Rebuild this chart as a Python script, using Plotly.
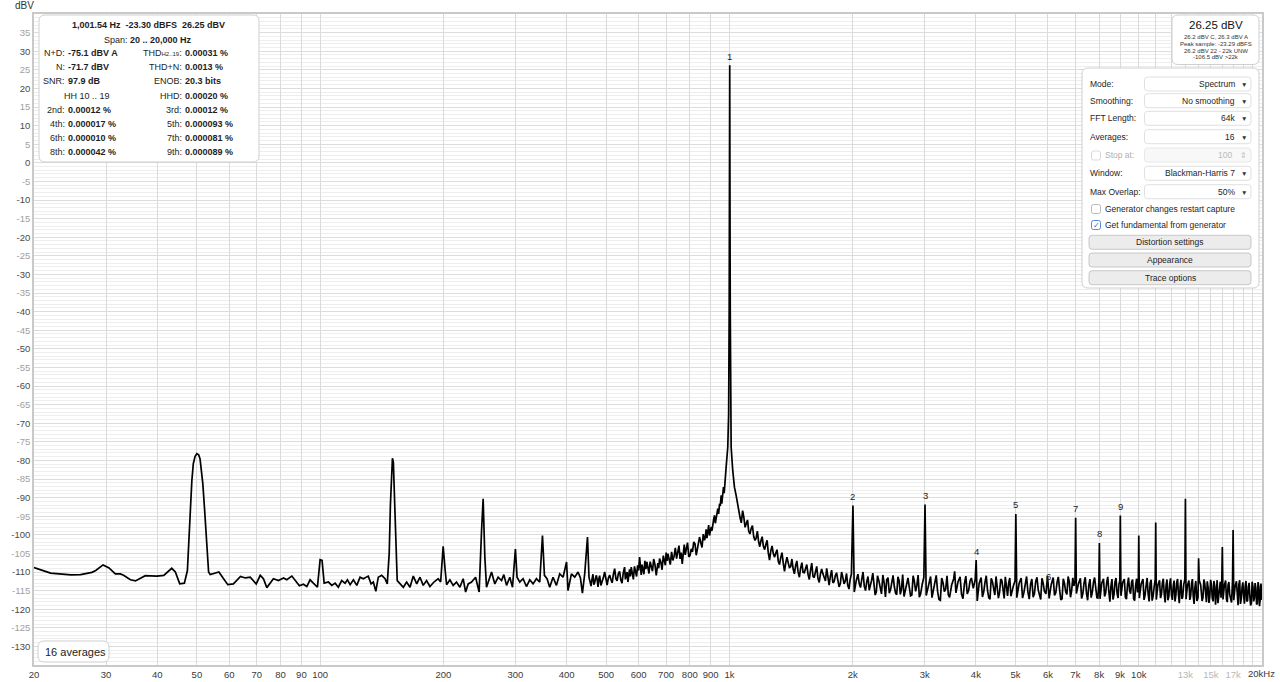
import math
import plotly.graph_objects as go

FONT = "Liberation Sans, Arial, Helvetica, sans-serif"

# ----------------------------------------------------------------- data ----
# 20 Hz .. 450 Hz : mains hum region (frequency in Hz, level in dBV)
hum_freq_hz = [20, 21.96, 24.6, 26.0, 27.7, 28.3, 29.5, 30.5, 31.6, 32.5, 33.1, 34.4, 35.4, 36.4, 37.4,
               39.9, 41.5, 43.4, 44.3, 45.4, 46.6, 47.4, 47.8, 48.2, 48.6, 49.0, 49.5, 50.0, 50.5, 50.9,
               51.3, 51.7, 52.2, 52.6, 53.0, 53.4, 53.9, 56.6, 58.1, 59.5, 61.4, 63.9, 65.7, 67.5, 69.8,
               71.4, 72.7, 74.1, 76.9, 79.1, 81.4, 82.9, 85.3, 87.7, 89.0, 91.0, 92.8, 94.5, 96.3, 98.5,
               100.0, 101.1, 102.3, 104.8, 106.8, 108.8, 110.8, 112.9, 115.1, 116.6, 118.4, 120.6, 122.9,
               125.2, 127.5, 131.1, 133.2, 134.9, 136.8, 138.7, 141.4, 144.1, 145.9, 147.5, 148.5, 149.5,
               150.2, 151.0, 152.0, 153.0, 154.3, 156.7, 159.7, 162.7, 165.8, 168.9, 172.2, 175.4, 178.6,
               182.0, 185.5, 189.7, 194.3, 197.0, 199.8, 202.1, 203.7, 207.5, 211.4, 215.4, 219.5, 223.6,
               226.7, 230.0, 234.4, 239.8, 244.6, 248.0, 250.2, 252.6, 255.0, 259.8, 262.3, 267.2, 272.2,
               277.5, 281.1, 285.4, 290.7, 295.1, 300.0, 302.8, 307.4, 313.2, 319.2, 325.2, 331.3, 337.7,
               344.0, 349.3, 353.2, 358.4, 363.9, 370.7, 377.9, 384.9, 392.2, 400.0, 403.3, 411.1, 418.8,
               426.6, 432.5, 437.3, 443.0, 450.0]
hum_level_dbv = [-108.8, -110.3, -110.75, -110.7, -110.1, -109.6, -108.1, -108.9, -110.5, -110.5, -110.9,
                 -112.1, -112.4, -111.8, -111.0, -111.1, -110.9, -109.0, -110.0, -113.2, -113.0, -109.6,
                 -100.0, -92.6, -85.5, -80.9, -78.9, -78.2, -78.5, -79.6, -82.5, -86.3, -93.0, -98.8,
                 -105.0, -110.0, -110.7, -110.0, -111.8, -113.4, -113.2, -111.2, -111.6, -111.4, -113.2,
                 -110.9, -111.8, -114.2, -111.8, -112.3, -111.6, -112.1, -111.1, -112.7, -113.7, -113.3,
                 -113.9, -112.1, -113.0, -114.1, -106.7, -106.9, -113.0, -112.7, -113.6, -113.0, -114.1,
                 -112.3, -113.0, -112.1, -113.4, -112.1, -113.6, -111.4, -111.8, -111.1, -113.2, -112.7,
                 -115.2, -111.4, -110.9, -111.8, -113.2, -105.0, -92.0, -82.0, -79.4, -80.5, -88.0,
                 -100.0, -112.3, -113.2, -114.1, -112.7, -114.1, -111.1, -113.2, -111.4, -113.6, -112.3,
                 -113.9, -112.7, -111.8, -112.7, -103.1, -109.6, -113.4, -112.1, -113.6, -112.7, -114.1,
                 -111.8, -115.4, -113.2, -112.7, -111.4, -115.4, -98.8, -90.3, -106.0, -114.1, -111.4,
                 -110.0, -113.2, -111.4, -112.3, -110.7, -113.6, -111.4, -114.1, -103.8, -111.4, -112.7,
                 -111.8, -113.9, -112.1, -113.2, -111.8, -112.7, -100.2, -110.9, -111.8, -114.1, -111.4,
                 -113.6, -110.5, -111.4, -107.3, -115.0, -110.5, -111.4, -110.0, -111.6, -115.7, -110.5,
                 -100.6]

# 450 Hz .. 1 kHz : rising skirt of the fundamental
rise_freq_hz = [453.8, 459.0, 464.1, 468.5, 473.1, 477.5, 481.9, 488.5, 495.6, 502.5, 509.7, 517.0, 524.3,
                531.5, 539.0, 546.5, 554.4, 559.5, 564.9, 570.0, 575.6, 582.5, 589.7, 596.5, 603.2, 608.8,
                614.4, 621.5, 628.5, 636.0, 644.2, 653.0, 662.5, 668.5, 675.0, 684.5, 694.2, 700.5, 707.3,
                717.0, 727.4, 737.5, 748.1, 757.5, 766.8, 775.5, 784.3, 795.5, 806.6, 818.0, 829.6, 837.5,
                845.1, 857.0, 869.0, 877.0, 885.4, 894.0, 902.5, 911.0, 919.3, 928.0, 936.5, 945.5, 954.6,
                961.0, 967.0, 975.0, 981.6, 990.6, 995.5, 998.5, 1000.3, 1002.8, 1004.6]
rise_level_dbv = [-111.4, -113.8, -110.6, -112.9, -110.9, -114.0, -111.0, -112.8, -110.0, -113.5, -110.8,
                  -112.9, -109.1, -112.4, -109.8, -113.0, -108.7, -111.2, -112.7, -109.3, -108.7, -112.0,
                  -110.0, -108.2, -106.0, -110.8, -109.6, -107.0, -107.3, -110.4, -108.7, -106.5, -110.9,
                  -107.6, -106.4, -109.4, -107.3, -104.8, -105.1, -108.0, -106.9, -103.5, -104.2, -106.5,
                  -107.8, -102.6, -103.3, -105.9, -103.8, -101.9, -105.5, -102.8, -100.6, -103.4, -101.5,
                  -98.5, -98.8, -100.2, -97.9, -96.8, -94.8, -95.6, -93.0, -91.9, -89.4, -90.2, -87.2,
                  -85.5, -81.8, -76.4, -67.5, -40.0, -5.0, -5.0, -40.0]
rise_fill_freq_hz = [456.5, 461.5, 466.3, 470.8, 475.3, 479.7, 485.2, 492.0, 499.0, 506.0,
                     513.3, 520.6, 527.9, 535.2, 542.7, 550.4, 557.0, 562.2, 567.5, 572.8,
                     579.0, 586.1, 593.1, 599.8, 606.0, 611.6, 618.0, 625.0, 632.2, 640.1,
                     648.6, 657.7, 665.5, 671.7, 679.7, 689.3, 697.3, 703.9, 712.1, 722.2,
                     732.4, 742.8, 752.8, 762.1, 771.1, 779.9, 789.9, 801.0, 812.3, 823.8,
                     833.5, 841.3, 851.0, 863.0, 873.0, 881.2, 889.7, 898.2, 906.7, 915.1,
                     923.6, 932.2, 941.0, 950.0, 957.8, 964.0, 971.0, 978.3]
rise_fill_level_dbv = [-112.6, -112.0, -113.4, -111.7, -112.2, -111.8, -113.6, -111.5, -112.1, -111.7,
                       -112.0, -110.6, -111.8, -110.5, -112.1, -110.2, -112.0, -110.0, -111.4, -111.2,
                       -110.3, -108.5, -111.2, -109.6, -107.9, -108.0, -110.6, -109.2, -108.8, -107.2,
                       -109.8, -108.0, -108.9, -109.0, -107.3, -105.6, -108.2, -107.0, -106.2, -104.6,
                       -105.8, -106.4, -102.9, -104.8, -105.0, -105.4, -102.1, -105.6, -104.6, -102.4,
                       -104.2, -101.3, -102.1, -99.8, -100.7, -100.9, -97.4, -99.1, -98.9, -95.8,
                       -96.9, -94.2, -94.4, -92.0, -91.6, -88.6, -88.8, -84.2]

# 1 kHz .. 3 kHz : falling skirt and noise floor
floor_a_freq_hz = [1009.6, 1018.7, 1028.5, 1038.3, 1047, 1062, 1077, 1092, 1107, 1122, 1138, 1154, 1170,
                   1186, 1202, 1219, 1236, 1253, 1271, 1289, 1307, 1325, 1344, 1363, 1382, 1401, 1421,
                   1441, 1461, 1482, 1503, 1524, 1545, 1567, 1589, 1611, 1634, 1657, 1680, 1704, 1728,
                   1752, 1777, 1802, 1827, 1853, 1879, 1905, 1932, 1959, 1986, 2018, 2060, 2090, 2120,
                   2150, 2180, 2210, 2240, 2270, 2300, 2335, 2370, 2405, 2440, 2475, 2510, 2545, 2580,
                   2615, 2650, 2690, 2730, 2770, 2810, 2850, 2890, 2930, 2985]
floor_a_level_dbv = [-76.4, -82.7, -87.2, -89.4, -92.1, -95.5, -93.5, -98.0, -96.0, -99.8, -97.5, -101.5,
                     -99.0, -103.2, -100.5, -104.0, -101.5, -106.8, -103.0, -106.0, -104.0, -108.0, -104.8,
                     -109.8, -106.0, -108.8, -106.5, -110.5, -107.0, -111.4, -107.5, -110.2, -108.0, -112.0,
                     -107.6, -111.5, -108.5, -112.8, -109.2, -111.8, -109.0, -113.5, -109.5, -112.6, -110.2,
                     -114.0, -110.0, -113.2, -110.4, -114.6, -110.5, -115.4, -110.6, -114.2, -110.0, -115.0,
                     -111.2, -113.8, -110.3, -116.2, -111.0, -114.5, -110.8, -116.7, -111.5, -114.8, -110.9,
                     -115.6, -111.3, -116.0, -110.7, -114.9, -111.6, -116.4, -111.0, -115.2, -110.8, -116.0,
                     -111.4]
floor_a_fill_freq_hz = [1054, 1069, 1084, 1099, 1114, 1130, 1146, 1162, 1178, 1194,
                        1210, 1227, 1244, 1262, 1280, 1298, 1316, 1334, 1353, 1372,
                        1391, 1411, 1431, 1451, 1471, 1492, 1513, 1534, 1556, 1578,
                        1600, 1622, 1645, 1668, 1692, 1716, 1740, 1764, 1789, 1814,
                        1840, 1866, 1892, 1918, 1945, 1972, 2040, 2075, 2105, 2135,
                        2165, 2195, 2225, 2255, 2285, 2318, 2352, 2388, 2422, 2458,
                        2492, 2528, 2562, 2598, 2632, 2670, 2710, 2750, 2790, 2830,
                        2870, 2910, 2958]
floor_a_fill_level_dbv = [-93.0, -96.8, -95.2, -97.0, -98.9, -98.3, -100.4, -100.9, -101.8, -101.6,
                          -103.0, -102.6, -104.8, -104.3, -105.1, -104.9, -107.1, -106.2, -107.5, -107.7,
                          -107.4, -108.6, -109.2, -108.3, -109.9, -109.0, -110.1, -109.1, -110.6, -109.5,
                          -111.2, -110.0, -111.7, -110.6, -110.5, -112.4, -110.8, -111.2, -112.9, -111.0,
                          -112.2, -113.1, -111.4, -112.5, -113.5, -112.0, -112.4, -113.1, -112.0, -113.8,
                          -112.6, -114.9, -112.2, -113.5, -115.3, -112.4, -115.9, -113.0, -112.1, -115.7,
                          -112.6, -113.9, -116.1, -112.4, -114.6, -116.6, -112.9, -114.1, -116.2, -112.5,
                          -113.6, -116.8, -113.3]

# 3 kHz .. 20 kHz : noise floor
floor_b_freq_hz = [3025, 3100, 3150, 3200, 3250, 3300, 3350, 3400, 3450, 3530, 3575, 3660, 3720, 3780,
                   3840, 3900, 3985, 4030, 4120, 4180, 4240, 4300, 4360, 4420, 4480, 4540, 4600, 4660,
                   4720, 4780, 4840, 4900, 4985, 5035, 5160, 5240, 5320, 5400, 5480, 5560, 5640, 5720,
                   5800, 5880, 5985, 6040, 6180, 6270, 6360, 6450, 6540, 6630, 6720, 6810, 6900, 6985,
                   7040, 7200, 7300, 7400, 7500, 7600, 7700, 7800, 7900, 7990, 8040, 8200, 8300, 8400,
                   8500, 8600, 8700, 8800, 8900, 8990, 9045, 9220, 9330, 9440, 9550, 9660, 9770, 9880,
                   9975, 10030, 10240, 10360, 10480, 10600, 10720, 10840, 10970, 11035, 11240, 11360,
                   11480, 11600, 11720, 11840, 11960, 12080, 12200, 12320, 12440, 12560, 12680, 12800,
                   12960, 13045, 13260, 13390, 13520, 13650, 13780, 13955, 14050, 14280, 14420, 14560,
                   14700, 14840, 14980, 15120, 15260, 15400, 15540, 15680, 15820, 15950, 16060, 16300,
                   16450, 16600, 16750, 16945, 17060, 17320, 17480, 17640, 17800, 17960, 18120, 18280,
                   18440, 18600, 18760, 18920, 19080, 19240, 19400, 19560, 19720, 19880, 20000]
floor_b_level_dbv = [-116.3, -111.2, -115.0, -110.9, -117.4, -111.6, -115.3, -111.0, -116.8, -111.8,
                     -115.6, -111.3, -117.2, -111.1, -115.0, -111.6, -112.0, -117.8, -111.5, -115.4,
                     -111.0, -116.9, -111.7, -115.2, -111.2, -117.0, -111.9, -115.8, -111.3, -116.4,
                     -111.6, -115.1, -112.4, -116.9, -111.6, -115.5, -111.2, -117.3, -111.9, -115.8,
                     -111.4, -116.6, -111.7, -115.2, -111.1, -117.1, -111.5, -115.6, -111.3, -117.5,
                     -111.8, -115.4, -111.2, -116.8, -111.6, -112.4, -115.8, -111.7, -115.9, -111.4,
                     -117.6, -111.9, -115.5, -111.5, -116.9, -112.6, -117.2, -111.8, -115.7, -111.3,
                     -118.0, -111.9, -116.1, -111.6, -117.0, -112.3, -116.4, -111.9, -117.3, -111.5,
                     -115.8, -112.0, -117.7, -111.8, -112.7, -117.0, -111.9, -116.2, -111.6, -117.9,
                     -112.1, -116.5, -111.9, -117.4, -112.2, -116.0, -111.8, -118.2, -112.0, -116.6,
                     -111.7, -117.5, -112.3, -116.2, -111.9, -118.4, -112.1, -116.8, -112.0, -117.3,
                     -112.3, -116.4, -111.9, -118.6, -112.4, -116.9, -112.2, -117.8, -112.0, -116.5,
                     -112.5, -118.3, -112.1, -117.0, -112.4, -118.8, -112.2, -116.7, -112.6, -112.9,
                     -117.4, -112.3, -118.1, -112.7, -116.9, -112.4, -117.6, -112.5, -118.9, -112.2,
                     -117.2, -112.8, -118.5, -112.4, -117.7, -112.9, -119.0, -112.6, -117.9, -113.0,
                     -118.7, -112.7, -119.2, -113.1, -117.5]
floor_b_fill_freq_hz = [3062, 3125, 3175, 3225, 3275, 3325, 3375, 3425, 3490, 3618,
                        3690, 3750, 3810, 3870, 3942, 4075, 4150, 4210, 4270, 4330,
                        4390, 4450, 4510, 4570, 4630, 4690, 4750, 4810, 4870, 4942,
                        5100, 5200, 5280, 5360, 5440, 5520, 5600, 5680, 5760, 5840,
                        5930, 6110, 6225, 6315, 6405, 6495, 6585, 6675, 6765, 6855,
                        6942, 7120, 7250, 7350, 7450, 7550, 7650, 7750, 7850, 7945,
                        8120, 8250, 8350, 8450, 8550, 8650, 8750, 8850, 8945, 9130,
                        9275, 9385, 9495, 9605, 9715, 9825, 9928, 10135, 10300, 10420,
                        10540, 10660, 10780, 10905, 11140, 11300, 11420, 11540, 11660, 11780,
                        11900, 12020, 12140, 12260, 12380, 12500, 12620, 12740, 12880, 13150,
                        13325, 13455, 13585, 13715, 13865, 14165, 14350, 14490, 14630, 14770,
                        14910, 15050, 15190, 15330, 15470, 15610, 15750, 15885, 16180, 16375,
                        16525, 16675, 16850, 17190, 17400, 17560, 17720, 17880, 18040, 18200,
                        18360, 18520, 18680, 18840, 19000, 19160, 19320, 19480, 19640, 19800,
                        19940]
floor_b_fill_level_dbv = [-113.8, -116.9, -112.4, -115.2, -117.6, -112.9, -114.6, -116.1, -113.5, -112.6,
                          -116.0, -113.2, -115.9, -112.5, -114.4, -113.0, -116.7, -112.8, -114.9, -117.3,
                          -112.6, -116.2, -113.7, -115.5, -112.3, -117.1, -114.2, -112.9, -116.5, -113.6,
                          -113.1, -117.0, -112.7, -115.4, -113.3, -116.8, -112.5, -114.8, -117.4, -113.0,
                          -115.9, -113.4, -116.3, -112.8, -114.7, -117.2, -113.1, -116.0, -112.6, -115.0,
                          -113.7, -113.2, -117.1, -112.9, -115.6, -113.5, -116.9, -112.7, -114.3, -117.0,
                          -113.0, -116.6, -112.8, -115.3, -113.9, -117.4, -112.6, -115.7, -113.3, -112.9,
                          -116.8, -113.4, -115.1, -112.7, -117.2, -113.6, -115.5, -113.2, -117.5, -113.7,
                          -115.8, -113.0, -117.7, -113.9, -113.4, -117.0, -112.9, -115.9, -113.6, -117.6,
                          -113.1, -116.3, -113.8, -117.9, -112.8, -116.1, -114.0, -117.2, -113.3, -113.6,
                          -117.5, -113.2, -116.4, -114.1, -117.8, -113.5, -116.8, -113.0, -118.1, -114.2,
                          -116.5, -113.4, -117.9, -113.8, -116.2, -118.4, -113.6, -116.9, -113.7, -117.3,
                          -113.5, -116.0, -118.2, -113.9, -116.7, -113.3, -118.6, -114.1, -116.4, -113.7,
                          -117.9, -114.0, -116.5, -118.3, -113.8, -117.0, -114.3, -118.5, -113.9, -117.4,
                          -114.6]

# fundamental and marked harmonics
fundamental_hz = 1001.54
harmonic_numbers = [1, 2, 3, 4, 5, 6, 7, 8, 9]
harmonic_level_dbv = [26.25, -92.1, -91.85, -106.8, -94.4, -113.7, -95.4, -102.2, -94.8]

# other (unmarked) spurs
spur_freq_hz = [3550, 10000, 11000, 13000, 14000, 16000, 17000]
spur_level_dbv = [-109.8, -100.2, -96.7, -90.3, -106.3, -103.3, -98.7]

# axis ticks
x_tick_hz = [20, 30, 40, 50, 60, 70, 80, 90, 100, 200, 300, 400, 500, 600, 700, 800, 900,
             1000, 2000, 3000, 4000, 5000, 6000, 7000, 8000, 9000, 10000,
             11000, 12000, 13000, 14000, 15000, 16000, 17000, 18000, 19000, 20000]
x_tick_text = ["20", "30", "40", "50", "60", "70", "80", "90", "100", "200", "300", "400", "500",
               "600", "700", "800", "900", "1k", "2k", "3k", "4k", "5k", "6k", "7k", "8k", "9k", "10k",
               "", "", "13k", "", "15k", "", "17k", "", "", ""]
x_faint_ticks = ["13k", "15k", "17k"]
x_end_label = "20kHz"
y_tick_dbv = list(range(35, -131, -5))

# readouts
pct_labels = ["2nd", "3rd", "4th", "5th", "6th", "7th", "8th", "9th"]
pct_values = ["0.00012 %", "0.00012 %", "0.000017 %", "0.000093 %", "0.000010 %", "0.000081 %",
              "0.000042 %", "0.000089 %"]

series = [(hum_freq_hz, hum_level_dbv), (rise_freq_hz, rise_level_dbv),
          (rise_fill_freq_hz, rise_fill_level_dbv),
          (floor_a_freq_hz, floor_a_level_dbv), (floor_a_fill_freq_hz, floor_a_fill_level_dbv),
          (floor_b_freq_hz, floor_b_level_dbv), (floor_b_fill_freq_hz, floor_b_fill_level_dbv),
          (spur_freq_hz, spur_level_dbv)]
for a, b in series:
    assert len(a) == len(b), (len(a), len(b))

# ------------------------------------------------------------ build trace --
pts = []
for fl, ll in series:
    pts += list(zip(fl, ll))
harm_freq_hz = [fundamental_hz * n for n in harmonic_numbers]
pts += list(zip(harm_freq_hz, harmonic_level_dbv))
pts.sort(key=lambda p: p[0])
freq = [p[0] for p in pts]
level = [p[1] for p in pts]

fig = go.Figure()
fig.add_trace(go.Scatter(x=freq, y=level, mode="lines",
                         line=dict(color="#000000", width=1.7),
                         hoverinfo="skip", showlegend=False))

# ----------------------------------------------------------------- layout --
W_PX, H_PX = 1280, 682
M_L, M_R, M_T, M_B = 34, 18, 14, 17
PW = W_PX - M_L - M_R
PH = H_PX - M_T - M_B


def px(x):
    return (x - M_L) / PW


def py(y):
    return 1 - (y - M_T) / PH


shapes = []
annots = []


def rrect(x0, y0, x1, y1, r, fill="#ffffff", line="#cfcfcf", lw=1.0):
    p = (f"M {px(x0 + r)},{py(y0)} L {px(x1 - r)},{py(y0)} Q {px(x1)},{py(y0)} {px(x1)},{py(y0 + r)} "
         f"L {px(x1)},{py(y1 - r)} Q {px(x1)},{py(y1)} {px(x1 - r)},{py(y1)} "
         f"L {px(x0 + r)},{py(y1)} Q {px(x0)},{py(y1)} {px(x0)},{py(y1 - r)} "
         f"L {px(x0)},{py(y0 + r)} Q {px(x0)},{py(y0)} {px(x0 + r)},{py(y0)} Z")
    shapes.append(dict(type="path", path=p, xref="paper", yref="paper", fillcolor=fill,
                       line=dict(color=line, width=lw), layer="above"))


def text(x, y, s, size=8.5, color="#1e1e1e", anchor="left"):
    annots.append(dict(xref="paper", yref="paper", x=px(x), y=py(y), text=s, showarrow=False,
                       xanchor=anchor, yanchor="middle", borderpad=0,
                       font=dict(family=FONT, size=size, color=color)))


# decade lines (darker)
for d in [100, 1000, 10000]:
    shapes.append(dict(type="line", xref="x", yref="paper", x0=math.log10(d), x1=math.log10(d),
                       y0=0, y1=1, line=dict(color="#a9a9a9", width=1), layer="between"))

# axis title and end label
text(14, 6, "dBV", size=10, color="#333")
text(1276, 673, x_end_label, size=9.5, color="#3a3a3a", anchor="right")

# info box
rrect(39, 15, 259, 162, 6)
text(148, 25, "<b>1,001.54 Hz&nbsp;&nbsp;-23.30 dBFS&nbsp;&nbsp;26.25 dBV</b>", size=9, anchor="center")
text(148, 39.5, "Span: <b>20 .. 20,000 Hz</b>", size=9, anchor="center")
info_rows = [
    (53.5, "N+D:", "-75.1 dBV A", "THD<span style='font-size:6px'>H2..19</span>:", "0.00031 %"),
    (67.5, "N:", "-71.7 dBV", "THD+N:", "0.0013 %"),
    (81.5, "SNR:", "97.9 dB", "ENOB:", "20.3 bits"),
    (95.5, None, None, "HHD:", "0.00020 %"),
]
for y, l1, v1, l2, v2 in info_rows:
    if l1:
        text(65.5, y, l1, size=9, anchor="right")
        text(67, y, f"<b>{v1}</b>", size=9)
    text(182.5, y, l2, size=9, anchor="right")
    text(184, y, f"<b>{v2}</b>", size=9)
text(87, 95.5, "HH 10 .. 19", size=9, anchor="center")
for i in range(4):
    y = 109.5 + 14 * i
    text(65.5, y, pct_labels[2 * i] + ":", size=9, anchor="right")
    text(67, y, f"<b>{pct_values[2 * i]}</b>", size=9)
    text(182.5, y, pct_labels[2 * i + 1] + ":", size=9, anchor="right")
    text(184, y, f"<b>{pct_values[2 * i + 1]}</b>", size=9)

# top-right level box
rrect(1172, 15, 1259, 64.5, 6)
text(1215.5, 25, "26.25 dBV", size=11.5, anchor="center", color="#111")
for y, s in [(36.7, "26.2 dBV C, 26.3 dBV A"), (43.6, "Peak sample: -23.29 dBFS"),
             (50.5, "26.2 dBV 22 - 22k UNW"), (57.3, "-106.5 dBV >22k")]:
    text(1215.5, y, s, size=6, anchor="center", color="#333")

# settings panel
rrect(1082, 68, 1259, 288, 6)
for lab, val, y in [("Mode:", "Spectrum", 84), ("Smoothing:", "No smoothing", 100.7),
                    ("FFT Length:", "64k", 118.3), ("Averages:", "16", 136.7),
                    ("Window:", "Blackman-Harris 7", 173.3), ("Max Overlap:", "50%", 191.7)]:
    text(1089, y, lab, size=8.5)
    rrect(1144.5, y - 7, 1251, y + 7, 3, fill="#ffffff", line="#d8d8d8", lw=0.8)
    text(1236, y, val, size=8.5, anchor="right")
    text(1244, y + 0.5, "▼", size=6.5, anchor="center", color="#333")
# stop at (disabled)
rrect(1091.5, 151, 1100.5, 160, 2, fill="#ffffff", line="#cfcfcf", lw=0.8)
text(1104, 155.3, "Stop at:", size=8.5, color="#b0b0b0")
rrect(1144.5, 148, 1251, 162, 3, fill="#f8f8f8", line="#e2e2e2", lw=0.8)
text(1233, 155.3, "100", size=8.5, anchor="right", color="#b8b8b8")
text(1243.5, 155.3, "⇕", size=8, anchor="center", color="#bdbdbd")
# checkboxes
rrect(1091.5, 204.5, 1100.5, 213.5, 2, fill="#ffffff", line="#a8a8a8", lw=0.8)
text(1104, 209, "Generator changes restart capture", size=8.5)
rrect(1091.5, 220.5, 1100.5, 229.5, 2, fill="#ffffff", line="#3d7fd9", lw=0.9)
text(1096, 225.3, "✓", size=8, anchor="center", color="#2f6fd0")
text(1104, 225, "Get fundamental from generator", size=8.5)
# buttons
for lab, y in [("Distortion settings", 242.3), ("Appearance", 260), ("Trace options", 277.7)]:
    rrect(1089, y - 7, 1251, y + 7, 3, fill="#ececec", line="#bdbdbd", lw=0.8)
    text(1170, y, lab, size=8.5, anchor="center")

# averages box
rrect(38, 641, 109, 662, 6)
text(43.5, 652, "16 averages", size=11, color="#222")

# harmonic labels
for n, f, lv in zip(harmonic_numbers, harm_freq_hz, harmonic_level_dbv):
    annots.append(dict(xref="x", yref="y", x=math.log10(f), y=lv, yshift=9, text=str(n),
                       showarrow=False, xanchor="center", yanchor="middle",
                       font=dict(family=FONT, size=9.5, color="#222")))

y_tick_text = [f'<span style="color:#4a4a4a">{v}</span>' if v % 10 == 0
               else f'<span style="color:#a0a0a0">{v}</span>' for v in y_tick_dbv]
x_text = [f'<span style="color:#b8b8b8">{t}</span>' if t in x_faint_ticks else t for t in x_tick_text]

fig.update_layout(
    width=W_PX, height=H_PX,
    margin=dict(l=M_L, r=M_R, t=M_T, b=M_B, pad=0, autoexpand=False),
    paper_bgcolor="#ffffff", plot_bgcolor="#ffffff",
    font=dict(family=FONT, size=9.5, color="#3a3a3a"),
    showlegend=False,
    shapes=shapes, annotations=annots,
    xaxis=dict(type="log", range=[math.log10(20), math.log10(20000)], automargin=False,
               tickvals=x_tick_hz, ticktext=x_text, ticks="", showgrid=True,
               gridcolor="#dadada", gridwidth=1, zeroline=False,
               showline=True, mirror=True, linecolor="#c9c9c9", linewidth=1.5,
               tickfont=dict(family=FONT, size=9.5, color="#3a3a3a")),
    yaxis=dict(range=[-135, 40], tickvals=y_tick_dbv, ticktext=y_tick_text, ticks="",
               automargin=False,
               showgrid=True, gridcolor="#dcdcdc", gridwidth=1, zeroline=False,
               minor=dict(dtick=1, showgrid=True, gridcolor="#eeeeee", gridwidth=1),
               showline=True, mirror=True, linecolor="#c9c9c9", linewidth=1.5,
               tickfont=dict(family=FONT, size=9.5, color="#3a3a3a")),
)

fig.write_html("out.html", config={"displayModeBar": False},
               post_script="document.body.style.margin='0';document.body.style.padding='0';")
